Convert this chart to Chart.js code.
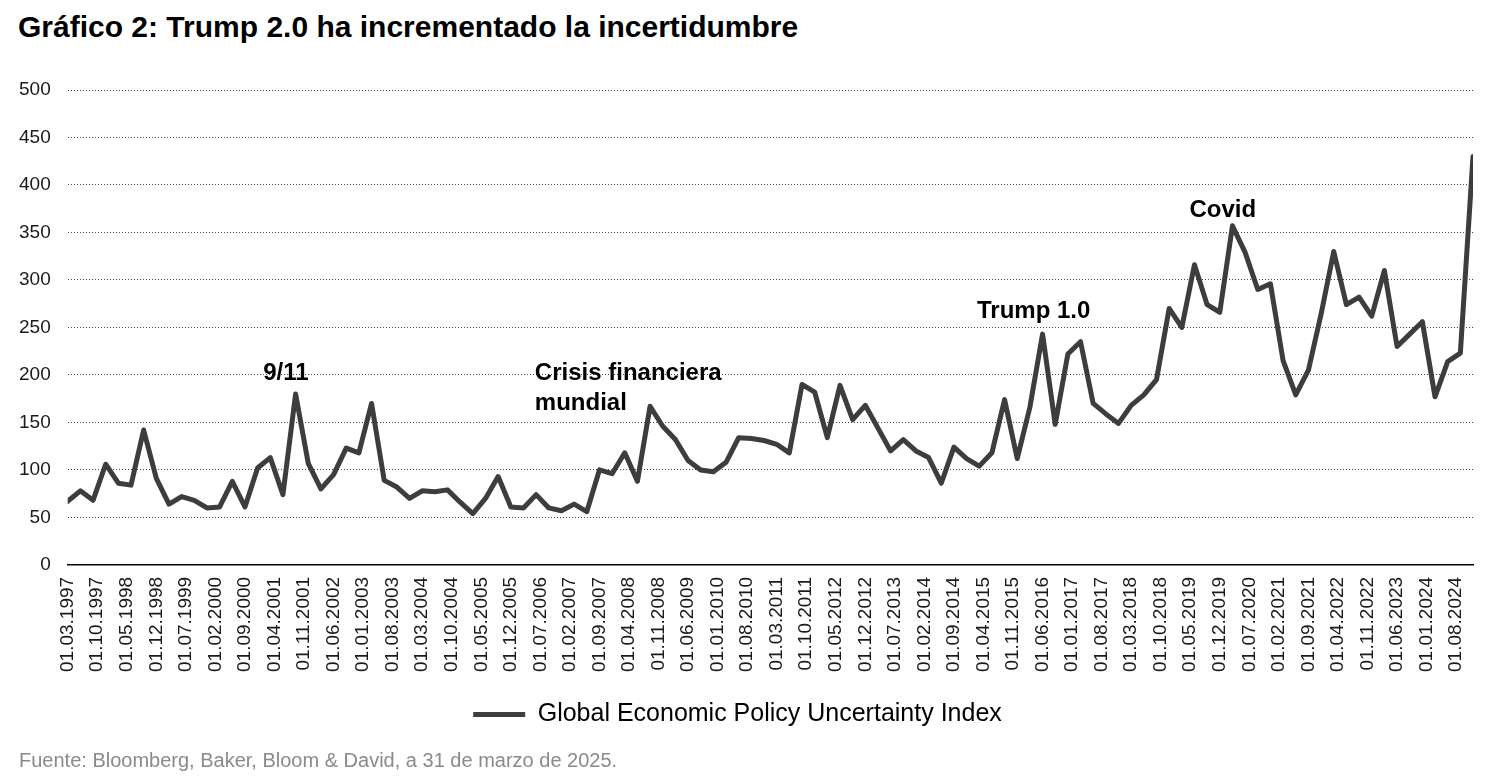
<!DOCTYPE html>
<html lang="es">
<head>
<meta charset="utf-8">
<title>Gráfico 2</title>
<script src="https://cdn.jsdelivr.net/npm/chart.js@4.4.1/dist/chart.umd.min.js"></script>
<style>
html,body{margin:0;padding:0;background:#fff}
body{width:1500px;height:783px;position:relative;overflow:hidden;font-family:"Liberation Sans",Arial,sans-serif}
#title{position:absolute;left:18px;top:12px;font-size:30px;line-height:30px;font-weight:bold;color:#000;white-space:nowrap}
#source{position:absolute;left:19px;top:750px;font-size:20px;line-height:20px;color:#8a8a8a;white-space:nowrap}
canvas{position:absolute;left:0;top:0}
</style>
</head>
<body>
<div id="title">Gráfico 2: Trump 2.0 ha incrementado la incertidumbre</div>
<canvas id="epuChart" width="1500" height="783"></canvas>
<div id="source">Fuente: Bloomberg, Baker, Bloom &amp; David, a 31 de marzo de 2025.</div>
<script>
// quarterly series, first point 01.03.1997
const startYear=1997
const startMonth=3
const monthsPerPoint=3
const tickEveryMonths=7
const seriesLabel="Global Economic Policy Uncertainty Index"
const epuValues=[
67,78,68,106,86,84,142,91,64,72,68,60,61,88,61,102,113,74,180,107,
80,95,123,118,170,89,82,70,78,77,79,66,54,70,93,61,60,74,60,57,
64,56,100,96,118,88,167,146,132,110,100,98,108,134,133,131,127,118,190,182,
134,189,153,168,144,120,132,120,113,86,124,112,104,118,174,112,166,243,148,222,
235,170,159,149,168,179,195,270,250,316,274,266,357,329,290,296,215,179,205,264,
330,274,282,262,310,230,243,256,177,214,223,430
]
// event labels (x in months since start, y in index units)
const noteTexts=["9/11","Crisis financiera","mundial","Trump 1.0","Covid"]
const noteX=[51.7,110.7,110.7,228.9,273.7]
const noteY=[194.7,194.7,163,260,366]
const noteAlign=["center","left","left","center","center"]

const family='"Liberation Sans", Arial, sans-serif'
const lastMonth=(epuValues.length-1)*monthsPerPoint
const points=epuValues.map((v,i)=>({x:i*monthsPerPoint,y:v}))

function dateLabel(m){
const t=startMonth-1+m
const mm=t%12+1
const yy=startYear+Math.floor(t/12)
return "01."+String(mm).padStart(2,"0")+"."+yy
}

const notePlugin={
id:"notes",
afterDatasetsDraw(chart){
const {ctx,scales:{x,y}}=chart
ctx.save()
ctx.font="bold 24px "+family
ctx.fillStyle="#000"
ctx.textBaseline="alphabetic"
noteTexts.forEach((t,i)=>{
ctx.textAlign=noteAlign[i]
ctx.fillText(t,x.getPixelForValue(noteX[i]),y.getPixelForValue(noteY[i]))
})
ctx.restore()
}
}

const ctx=document.getElementById("epuChart")
new Chart(ctx,{
type:"line",
data:{
datasets:[{
label:seriesLabel,
data:points,
borderColor:"#3d3d3d",
backgroundColor:"#3d3d3d",
borderWidth:5,
pointRadius:0,
tension:0,
borderJoinStyle:"round",
borderCapStyle:"round"
}]
},
options:{
responsive:false,
animation:false,
devicePixelRatio:1,
layout:{padding:{top:90,left:2,right:27,bottom:46}},
plugins:{
legend:{
position:"bottom",
labels:{usePointStyle:true,pointStyle:"line",pointStyleWidth:52,padding:18,color:"#000",font:{size:25,family:family}}
},
tooltip:{enabled:false}
},
scales:{
x:{
type:"linear",
min:0,
max:lastMonth,
grid:{display:false,drawTicks:false},
border:{display:true,color:"#000",width:1.5},
ticks:{stepSize:tickEveryMonths,includeBounds:false,autoSkip:false,maxRotation:90,minRotation:90,padding:12,color:"#1a1a1a",font:{size:19,family:family},callback:v=>dateLabel(v)}
},
y:{
min:0,
max:500,
grid:{color:c=>c.tick.value===0?"rgba(0,0,0,0)":"#444",lineWidth:1,drawTicks:false},
border:{display:false,dash:[1,2]},
ticks:{stepSize:50,padding:17,color:"#1a1a1a",font:{size:19,family:family}}
}
}
},
plugins:[notePlugin]
})
</script>
</body>
</html>
